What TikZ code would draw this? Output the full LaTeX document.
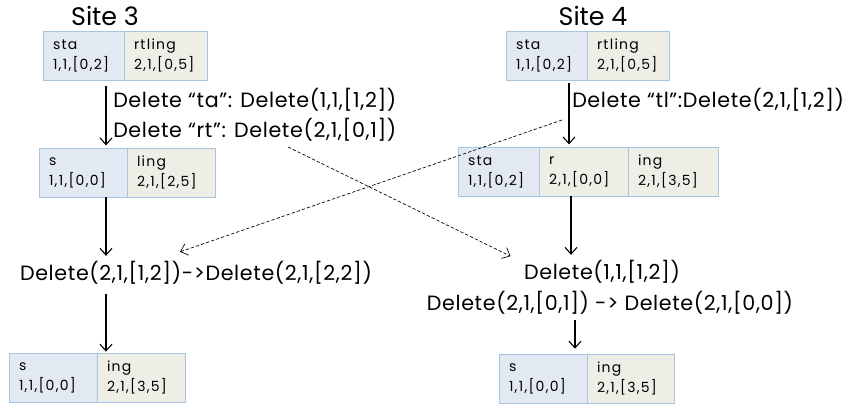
\documentclass[tikz,border=0pt]{standalone}
\usepackage{fontspec}
\setmainfont{Poppins}
\usetikzlibrary{arrows.meta,positioning}
\definecolor{cellblue}{HTML}{E2E9F3}
\definecolor{cellsand}{HTML}{EFEEE6}
\definecolor{cellline}{HTML}{A9C4E2}
\tikzset{
	cell/.style={draw=cellline, line width=0.7pt, outer sep=0pt, inner xsep=7.5pt, inner ysep=0pt,
		minimum height=37pt, align=left, font=\fontsize{10.5}{15}\selectfont\addfontfeatures{LetterSpace=9}},
	bluecell/.style={cell, fill=cellblue},
	sandcell/.style={cell, fill=cellsand},
	oplabel/.style={font=\fontsize{15.5}{16}\selectfont\addfontfeatures{LetterSpace=3}, inner sep=0pt},
	sitelabel/.style={font=\fontsize{19}{22}\selectfont, inner sep=0pt},
	flow/.style={draw=black, line width=0.8pt, -{Straight Barb[length=5pt,width=9pt]}},
	sync/.style={draw=black, line width=0.5pt, dash pattern=on 2.5pt off 1.5pt, -{Straight Barb[length=5pt,width=9pt]}}
}
\begin{document}
\begin{tikzpicture}[x=0.75pt,y=-0.75pt]
	\useasboundingbox (0,0) rectangle (851,405);
	% site titles
	\node[sitelabel] (site3) at (105,16) {Site 3};
	\node[sitelabel] (site4) at (593,16) {Site 4};
	% site 3 column
	\node[bluecell, anchor=north west, text width=45.75pt] (s3a) at (43,31) {sta\\1,1,[0,2]};
	\node[sandcell, right=0pt of s3a, text width=47.25pt] (s3b) {rtling\\2,1,[0,5]};
	\node[bluecell, anchor=north west, text width=51pt] (m3a) at (39,148) {s\\1,1,[0,0]};
	\node[sandcell, right=0pt of m3a, text width=51pt] (m3b) {ling\\2,1,[2,5]};
	\node[bluecell, anchor=north west, text width=51pt] (b3a) at (9,353) {s\\1,1,[0,0]};
	\node[sandcell, right=0pt of b3a, text width=51pt] (b3b) {ing\\2,1,[3,5]};
	% site 4 column
	\node[bluecell, anchor=north west, text width=45.75pt] (s4a) at (506,31) {sta\\1,1,[0,2]};
	\node[sandcell, right=0pt of s4a, text width=46.5pt] (s4b) {rtling\\2,1,[0,5]};
	\node[bluecell, anchor=north west, text width=45.75pt] (m4a) at (458,147) {sta\\1,1,[0,2]};
	\node[sandcell, right=0pt of m4a, text width=51.75pt] (m4b) {r\\2,1,[0,0]};
	\node[sandcell, right=0pt of m4b, text width=52.5pt] (m4c) {ing\\2,1,[3,5]};
	\node[bluecell, anchor=north west, text width=51pt] (b4a) at (499,354) {s\\1,1,[0,0]};
	\node[sandcell, right=0pt of b4a, text width=50.25pt] (b4b) {ing\\2,1,[3,5]};
	% operations
	\node[oplabel, anchor=west] (op3a) at (113,100) {Delete “ta”: Delete(1,1,[1,2])};
	\node[oplabel, anchor=west] (op3b) at (113,130) {Delete “rt”: Delete(2,1,[0,1])};
	\node[oplabel, anchor=west] (op4) at (572,100) {Delete “tl”:Delete(2,1,[1,2])};
	\node[oplabel] (tr3) at (196,273) {Delete(2,1,[1,2])->Delete(2,1,[2,2])};
	\node[oplabel] (tr4a) at (602,272) {Delete(1,1,[1,2])};
	\node[oplabel] (tr4b) at (610,303) {Delete(2,1,[0,1]) -> Delete(2,1,[0,0])};
	% arrow columns
	\coordinate (x3) at (106,0);
	\coordinate (x4a) at (569,0);
	\coordinate (x4b) at (571,0);
	\coordinate (x4c) at (575,0);
	\draw[flow, shorten <=4.5pt, shorten >=2pt] (s3a.south -| x3) -- (m3a.north -| x3);
	\draw[flow, shorten >=4pt] (m3a.south -| x3) -- (tr3.north -| x3);
	\draw[flow, shorten <=7pt, shorten >=1pt] (tr3.south -| x3) -- (b3a.north -| x3);
	\draw[flow, shorten <=2pt, shorten >=2pt] (s4a.south -| x4a) -- (m4b.north -| x4a);
	\draw[flow, shorten >=4pt] (m4b.south -| x4b) -- (tr4a.north -| x4b);
	\draw[flow, shorten <=4pt, shorten >=4pt] (tr4b.south -| x4c) -- (b4a.north -| x4c);
	% crossing messages
	\coordinate (rtsend) at (288,147);
	\coordinate (tlsend) at (562,120);
	\draw[sync] (rtsend) -- ([xshift=-10pt,yshift=3pt]tr4a.north west);
	\draw[sync] (tlsend) -- ([xshift=-12pt,yshift=7pt]tr3.north);
\end{tikzpicture}
\end{document}
